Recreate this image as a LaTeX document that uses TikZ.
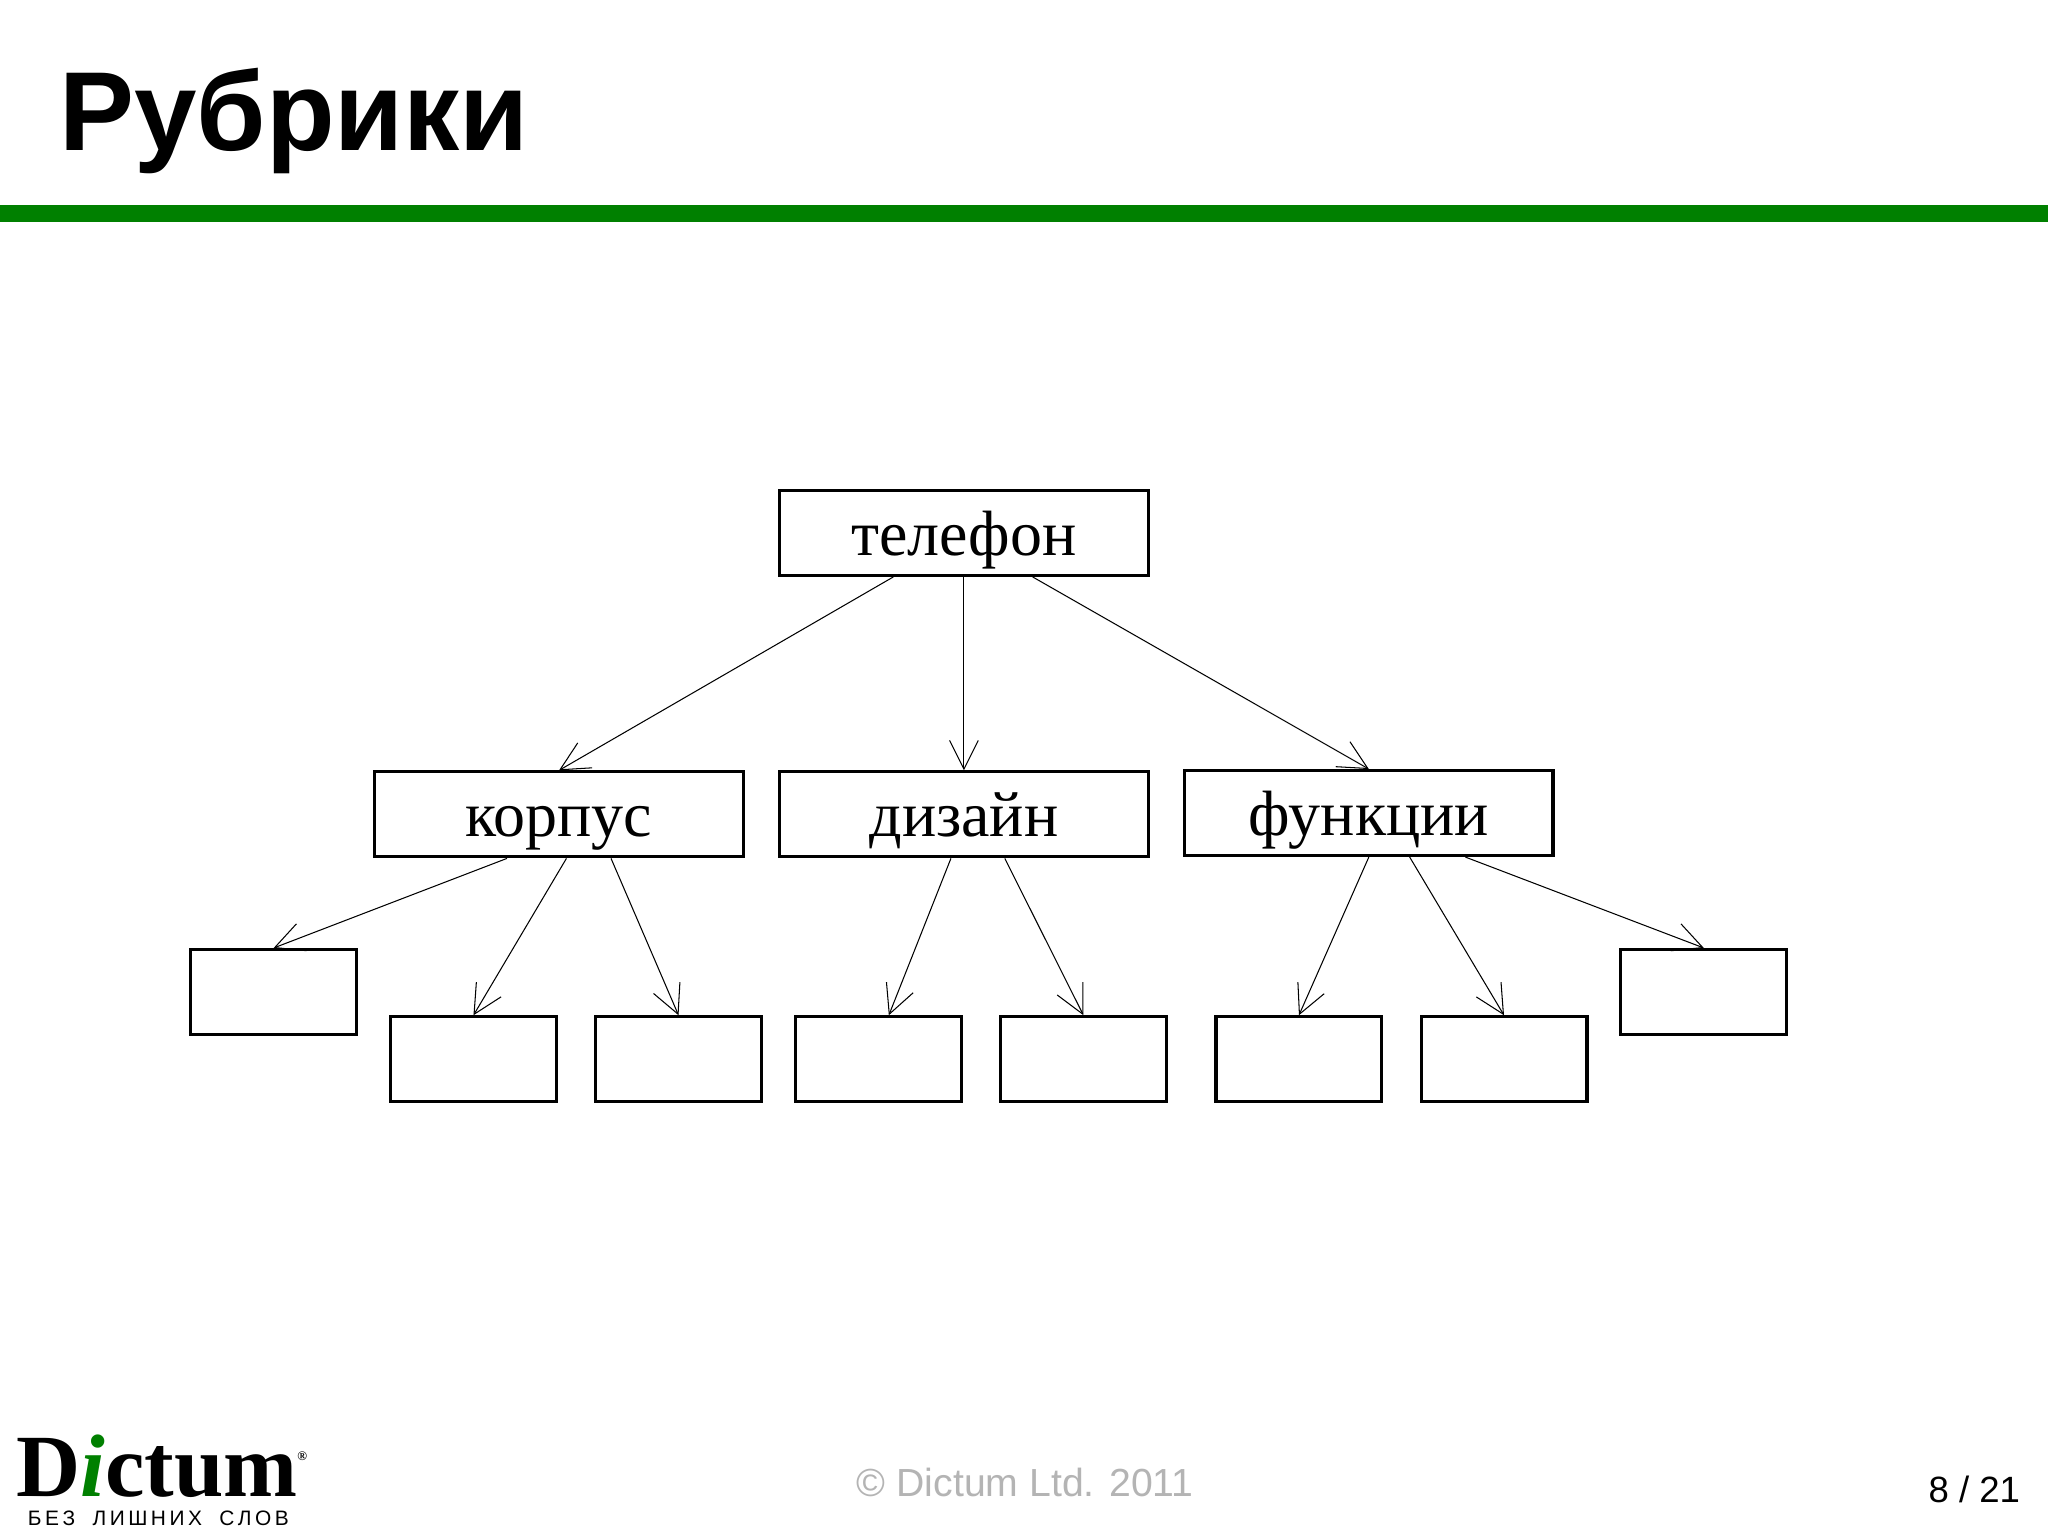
\documentclass[tikz,border=0pt]{standalone}
\usepackage{fontspec}
\setmainfont{Liberation Serif}
\newfontfamily\sansf{Liberation Sans}
\usetikzlibrary{arrows.meta,calc}
\definecolor{barg}{RGB}{0,128,0}
\definecolor{foot}{RGB}{180,180,180}
\begin{document}
\begin{tikzpicture}[x=0.5pt,y=-0.5pt,
  bigbox/.style={draw,line width=1.2pt,minimum width=141pt,minimum height=32.5pt,inner sep=0pt,text height=17pt,text depth=0pt,font=\fontsize{24.5}{24.5}\selectfont},
  smallbox/.style={draw,line width=1.2pt,minimum width=63.5pt,minimum height=32.5pt,inner sep=0pt},
  conn/.style={line width=0.4pt,-{Straight Barb[length=11pt,width=11pt,line width=0.4pt]}}]
\useasboundingbox[fill=white] (0,0) rectangle (1568,1177);
\node[anchor=base west,inner sep=0pt,font=\sansf\bfseries\fontsize{43}{43}\selectfont] (title) at (45,115) {Рубрики};
\fill[barg] (0,157) rectangle (1568,170);
\node[bigbox] (tel) at (738,408) {телефон};
\node[bigbox] (korp) at (428,623.5) {корпус};
\node[bigbox] (diz) at (738,623.5) {дизайн};
\node[bigbox] (fun) at (1048,622.5) {функции};
\node[smallbox] (b1) at (209.5,759.5) {};
\node[smallbox] (b2) at (362.5,811) {};
\node[smallbox] (b3) at (519.5,811) {};
\node[smallbox] (b4) at (672.5,811) {};
\node[smallbox] (b5) at (829.5,811) {};
\node[smallbox] (b6) at (994.5,811) {};
\node[smallbox] (b7) at (1151.5,811) {};
\node[smallbox] (b8) at (1304.5,759.5) {};
\draw[conn] ($(tel.south west)!0.31!(tel.south east)$) -- (korp.north);
\draw[conn] (tel.south) -- (diz.north);
\draw[conn] ($(tel.south west)!0.685!(tel.south east)$) -- (fun.north);
\draw[conn] ($(korp.south west)!0.36!(korp.south east)$) -- (b1.north);
\draw[conn] ($(korp.south west)!0.52!(korp.south east)$) -- (b2.north);
\draw[conn] ($(korp.south west)!0.64!(korp.south east)$) -- (b3.north);
\draw[conn] ($(diz.south west)!0.465!(diz.south east)$) -- ([xshift=4pt]b4.north);
\draw[conn] ($(diz.south west)!0.61!(diz.south east)$) -- (b5.north);
\draw[conn] (fun.south) -- (b6.north);
\draw[conn] ($(fun.south west)!0.61!(fun.south east)$) -- (b7.north);
\draw[conn] ($(fun.south west)!0.76!(fun.south east)$) -- (b8.north);
\node[anchor=base,inner sep=0pt,text=foot,font=\sansf\fontsize{15}{15}\selectfont] (copy) at (785,1146) {© Dictum Ltd. 2011};
\node[anchor=base east,inner sep=0pt,font=\sansf\fontsize{14}{14}\selectfont] (page) at (1547,1150) {8 / 21};
\node[anchor=base west,inner sep=0pt,text depth=0pt,font=\bfseries\fontsize{34}{34}\selectfont] (logo) at (12,1146) {D\textcolor{barg}{\itshape i}ctum\raisebox{14pt}{\fontsize{5}{5}\selectfont®}};
\node[anchor=base west,inner sep=0pt,font=\sansf\fontsize{8}{8}\selectfont] (slogan) at (21,1168) {Б\,Е\,З \ \ Л\,И\,Ш\,Н\,И\,Х \ \ С\,Л\,О\,В};
\end{tikzpicture}
\end{document}
